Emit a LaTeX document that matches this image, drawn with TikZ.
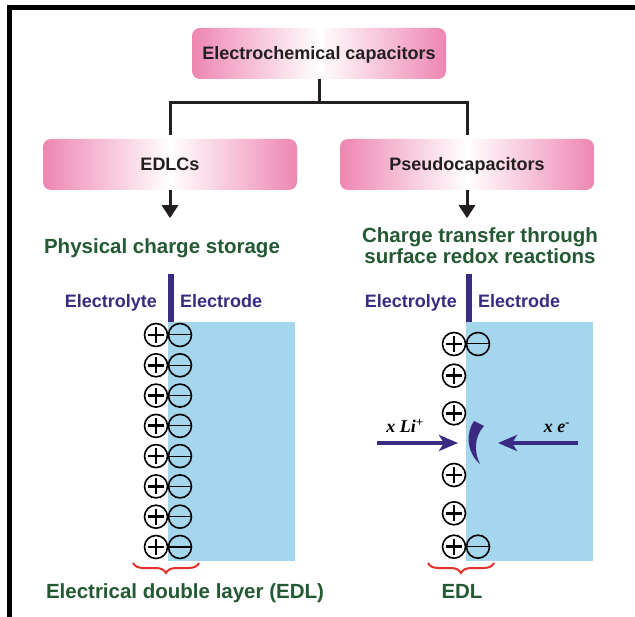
\documentclass[tikz,border=0pt]{standalone}
\usepackage{fontspec}
\setsansfont{Liberation Sans}
\newfontfamily\timesbi{Liberation Serif}
\usepackage{tikz}
\usetikzlibrary{positioning,arrows.meta,decorations.pathreplacing,calc}
\definecolor{boxpink}{HTML}{EE86B2}
\definecolor{boxtext}{HTML}{231F20}
\definecolor{darkgreen}{HTML}{245A33}
\definecolor{lytepurple}{HTML}{3A2A82}
\definecolor{codeblue}{HTML}{A4D6EE}
\definecolor{bracered}{HTML}{E4312B}

\begin{document}
\begin{tikzpicture}[x=1pt, y=-1pt,
  box/.style={rounded corners=8pt, left color=boxpink, right color=boxpink, middle color=white,
    minimum width=254pt, minimum height=51pt, text=boxtext, text height=12.5pt, text depth=0pt,
    font=\sffamily\bfseries\fontsize{18}{20}\selectfont},
  conn/.style={line width=3pt, boxtext},
  arrow/.style={-{Triangle[length=13pt,width=16pt]}, line width=3pt, boxtext},
  heading/.style={darkgreen, align=center, inner sep=0pt, anchor=base,
    font=\sffamily\bfseries\fontsize{20.5}{20.6}\selectfont},
  side/.style={lytepurple, inner sep=0pt, font=\sffamily\bfseries\fontsize{18}{20}\selectfont},
  bar/.style={line width=6pt, lytepurple},
  electrode/.style={fill=codeblue},
  plus/.style={circle, draw, line width=1.6pt, minimum size=23pt, inner sep=0pt,
    path picture={\draw[line width=2.8pt]
      ([xshift=3.5pt]path picture bounding box.west) -- ([xshift=-3.5pt]path picture bounding box.east)
      ([yshift=-3.5pt]path picture bounding box.north) -- ([yshift=3.5pt]path picture bounding box.south);}},
  minus/.style={circle, draw, line width=1.6pt, minimum size=23pt, inner sep=0pt,
    path picture={\draw[line width=1pt]
      (path picture bounding box.west) -- (path picture bounding box.east);}},
  ionarrow/.style={-{Stealth[length=19pt,width=16pt,inset=5pt]}, line width=3.5pt, lytepurple},
  ion/.style={inner sep=0pt, anchor=base, font=\timesbi\bfseries\itshape\fontsize{18}{20}\selectfont},
  brace/.style={decorate, decoration={brace, amplitude=10pt, mirror}, bracered, line width=2pt},
]
  \useasboundingbox (0,0) rectangle (635,617);
  \fill[white] (0,0) rectangle (635,617);
  \draw[line width=5pt] (9.5,617) -- (9.5,7.5) -- (635,7.5);

  % classification boxes
  \node[box] (ec) at (319,53.5) {Electrochemical capacitors};
  \node[box] (edlc) at (170,164.5) {EDLCs};
  \node[box] (pseudo) at (467,164.5) {Pseudocapacitors};

  \coordinate (split) at (319,103);
  \draw[conn] (ec.south) -- (split);
  \draw[conn, shorten >=4pt] (split) -| (edlc.north);
  \draw[conn, shorten >=4pt] (split) -| (pseudo.north);

  % headings
  \node[heading] (phys) at (162,253.5) {Physical charge storage};
  \node[heading] (redox) at (480,263.3) {Charge transfer through\\surface redox reactions};

  \coordinate (physIn) at ($(edlc.south)+(0,28)$);
  \coordinate (redoxIn) at ($(pseudo.south)+(0,28)$);
  \draw[arrow] (edlc.south) -- (physIn);
  \draw[arrow] (pseudo.south) -- (redoxIn);

  % EDLC side
  \fill[electrode] (168,322) rectangle (295,561);
  \draw[bar] (171,274) -- (171,322);
  \node[side, anchor=base east] (lyteL) at (157,308) {Electrolyte};
  \node[side, anchor=base west] (codeL) at (180,308) {Electrode};
  \foreach \row [count=\i] in {335,365.3,395.6,425.9,456.1,486.4,516.7,547}{
    \node[plus] (pl\i) at (156,\row) {};
    \node[minus] (ml\i) at (180,\row) {};
  }
  \draw[brace] (133,563) -- (199,563);
  \node[heading] (edlL) at (185,598) {Electrical double layer (EDL)};

  % pseudocapacitor side
  \fill[electrode] (466,322) rectangle (593,561);
  \draw[bar] (469,274) -- (469,322);
  \node[side, anchor=base east] (lyteR) at (457,308) {Electrolyte};
  \node[side, anchor=base west] (codeR) at (478,308) {Electrode};
  \foreach \row [count=\i] in {344,375.7,413.3,475,513.3,546.7}{
    \node[plus] (pr\i) at (454,\row) {};
  }
  \node[minus] (mr1) at (478,344) {};
  \node[minus] (mr6) at (478,546.7) {};

  \coordinate (liS) at (377,443);
  \coordinate (liE) at (458,443);
  \coordinate (elS) at (578,443);
  \coordinate (elE) at (498,443);
  \draw[ionarrow] (liS) -- (liE);
  \draw[ionarrow] (elS) -- (elE);
  \node[ion] (li) at (405,433) {x Li\textsuperscript{+}};
  \node[ion] (el) at (557,433) {x e\textsuperscript{-}};
  \fill[lytepurple] (474,421) .. controls (466,432) and (466,452) .. (480,464)
    .. controls (474,452) and (474,437) .. (484,426) -- cycle;

  \draw[brace] (428,563) -- (494,563);
  \node[heading] (edlR) at (462,598) {EDL};
\end{tikzpicture}
\end{document}
